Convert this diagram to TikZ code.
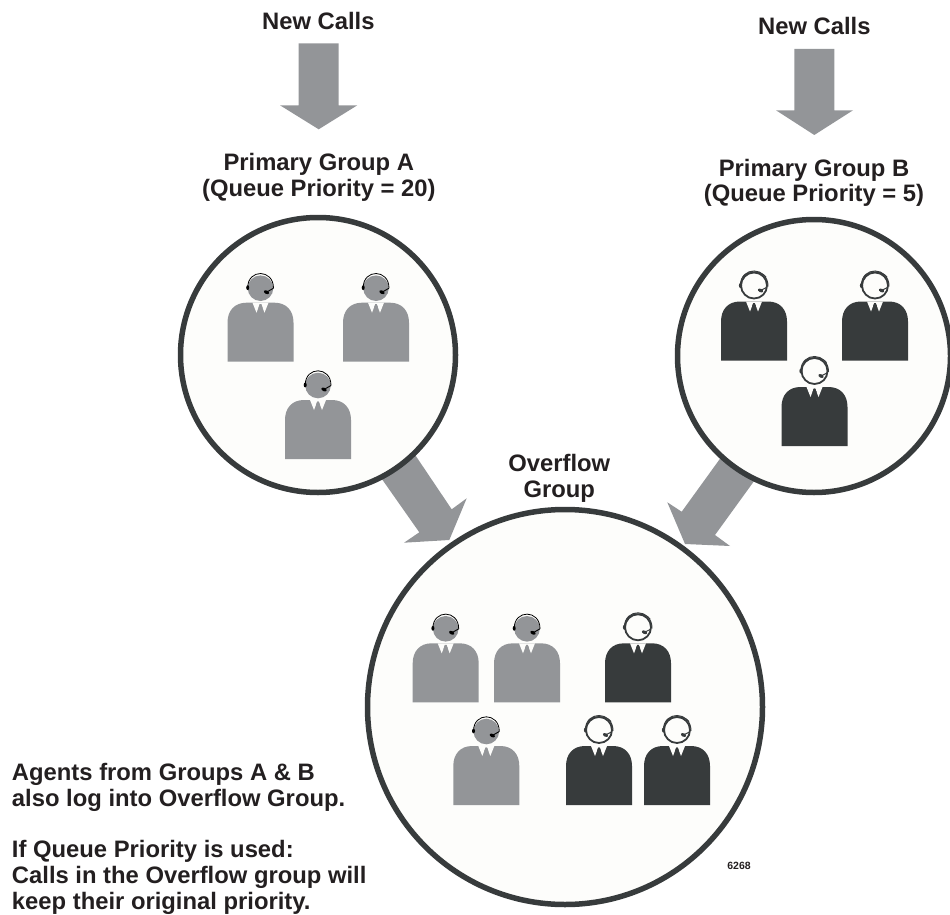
\documentclass[tikz,border=0pt]{standalone}
\usepackage{fontspec}
\setmainfont{Liberation Sans}
\definecolor{agray}{HTML}{939598}
\definecolor{adark}{HTML}{373B3C}
\definecolor{inkc}{HTML}{231F20}
\definecolor{paperc}{HTML}{FDFDFB}
\tikzset{
  x=1pt,y=-1pt,
  label text/.style={inner sep=0pt,outer sep=0pt,text=inkc,font=\fontsize{23.8}{25.7}\selectfont\bfseries,align=center,anchor=base},
  left text/.style={label text,align=left,anchor=base west},
  big arrow/.style={fill=agray,draw=none},
  group circle/.style={circle,draw=adark,line width=5.5pt,fill=paperc,inner sep=0pt,outer sep=0pt},
  pics/agenta/.style={code={
    \fill[agray] (-33,59) -- (-33,20) .. controls (-33,8) and (-26,0) .. (-14,0) -- (14,0) .. controls (26,0) and (33,8) .. (33,20) -- (33,59) -- cycle;
    \fill[paperc] (-8,0) -- (-4,10) -- (-0.8,1.5) -- (0.8,1.5) -- (4,10) -- (8,0) -- cycle;
    \fill[agray] (-0.8,1.5) -- (0.8,1.5) -- (2,5) -- (0,10) -- (-2,5) -- cycle;
    \fill[agray] (0,-14.5) circle (12.8);
    \draw[black,line width=0.8pt] (-12.8,-15) .. controls (-12.8,-34) and (13,-34) .. (13,-14.5);
    \fill[black] (-12.8,-15) ellipse (1.5 and 2.4);
    \draw[black,line width=0.9pt] (13,-14.5) -- (6,-10.5);
    \fill[black,rotate around={-25:(6,-10.5)}] (6,-10.5) ellipse (2.8 and 1.7);
  }},
  pics/agentb/.style={code={
    \fill[adark] (-33,59) -- (-33,20) .. controls (-33,8) and (-26,0) .. (-14,0) -- (14,0) .. controls (26,0) and (33,8) .. (33,20) -- (33,59) -- cycle;
    \fill[paperc] (-8,0) -- (-4,10) -- (-0.8,1.5) -- (0.8,1.5) -- (4,10) -- (8,0) -- cycle;
    \fill[adark] (-0.8,1.5) -- (0.8,1.5) -- (2,5) -- (0,10) -- (-2,5) -- cycle;
    \draw[adark,line width=1.8pt,fill=paperc] (0,-16) circle (13);
    \draw[adark,line width=1pt] (-13.6,-16) .. controls (-13.6,-35.5) and (14,-35.5) .. (14,-15);
    \draw[adark,line width=0.8pt] (-11,-24.5) .. controls (-6,-31) and (7,-31) .. (12,-24.5);
    \fill[adark] (-13.5,-16) ellipse (1.6 and 2.6);
    \draw[adark,line width=1pt] (12.5,-14) -- (6.5,-11);
    \fill[adark,rotate around={-25:(6.5,-11)}] (6.5,-11) ellipse (2.8 and 1.7);
  }},
}
\begin{document}
\begin{tikzpicture}
\useasboundingbox (0,0) rectangle (950,915);
% arrows into the primary groups
\fill[big arrow] (298.7,43.3) -- (338.7,43.3) -- (338.7,105.3) -- (357.3,105.3) -- (318.7,129.3) -- (280,105.3) -- (298.7,105.3) -- cycle;
\fill[big arrow] (794.3,49) -- (834.3,49) -- (834.3,110.3) -- (853,110.3) -- (814.3,135) -- (776,110.3) -- (794.3,110.3) -- cycle;
% arrows into the overflow group (their tails run under the circles)
\fill[big arrow] (395,425) -- (451.7,509.3) -- (466.7,498.3) -- (449.3,540) -- (404,542.7) -- (419.3,532.3) -- (365,455) -- cycle;
\fill[big arrow] (735,438) -- (681.7,511.7) -- (667.3,502.3) -- (685,544) -- (730,546) -- (715,535) -- (765,466) -- cycle;
% circles
\node[group circle,minimum size=275pt] (groupA) at (318,355) {};
\node[group circle,minimum size=273pt] (groupB) at (814,356) {};
\node[group circle,minimum size=395pt] (groupO) at (565,707) {};
% agents
\pic at (260.5,302.7) {agenta};
\pic at (376,302.7) {agenta};
\pic at (318,400) {agenta};
\pic at (754,301.5) {agentb};
\pic at (875,301.5) {agentb};
\pic at (814.5,387) {agentb};
\pic at (445.7,643.3) {agenta};
\pic at (527,643.3) {agenta};
\pic at (486.3,746) {agenta};
\pic at (638,643.3) {agentb};
\pic at (599,746) {agentb};
\pic at (677,746) {agentb};
% labels
\node[label text] (newA) at (318.3,30) {New Calls};
\node[label text] (newB) at (814.3,35) {New Calls};
\node[label text] (titleA) at (318.8,196) {Primary Group A\\(Queue Priority = 20)};
\node[label text] (titleB) at (814,201.7) {Primary Group B\\(Queue Priority = 5)};
\node[label text] (titleO) at (559.3,497.3) {Overflow\\Group};
\node[left text] (note) at (12,909) {Agents from Groups A \& B\\also log into Overflow Group.\\[25.7pt]If Queue Priority is used:\\Calls in the Overflow group will\\keep their original priority.};
\node[inner sep=0pt,anchor=base,text=inkc,font=\fontsize{10.5}{12}\selectfont\bfseries] (figno) at (739,869) {6268};
\end{tikzpicture}
\end{document}
